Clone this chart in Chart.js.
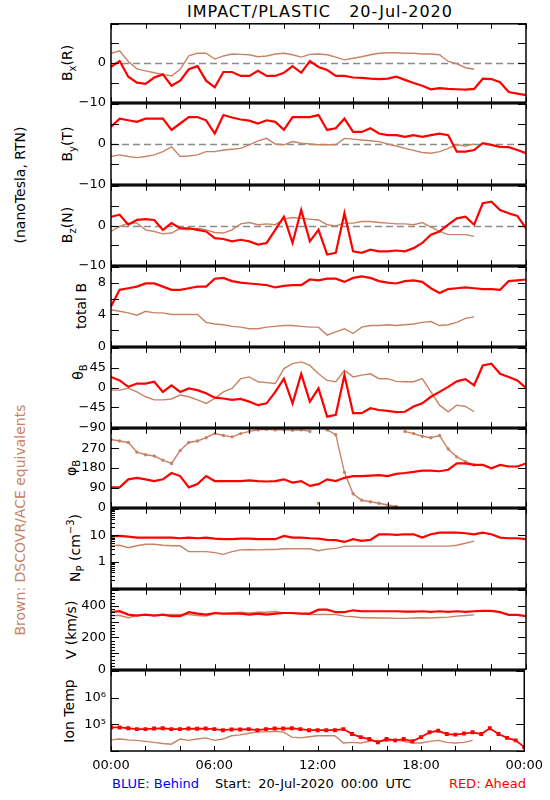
<!DOCTYPE html>
<html>
<head>
<meta charset="utf-8">
<title>IMPACT/PLASTIC 20-Jul-2020</title>
<script src="https://cdn.jsdelivr.net/npm/chart.js@4.4.0/dist/chart.umd.min.js"></script>
<style>
  body { margin: 0; background: #fff; font-family: "DejaVu Sans", sans-serif; }
  #page { position: relative; width: 550px; height: 800px; overflow: hidden; background: #fff; }
  .box { position: absolute; left: 0; width: 550px; }
  .box canvas { display: block; }
  .lbl { position: absolute; white-space: pre; font-size: 14px; line-height: 1; color: #000; transform: translate(0, -50%); }
  .rot { transform: translate(-50%, -50%) rotate(-90deg); }
  sub, sup { font-size: 10px; line-height: 0; }
</style>
</head>
<body>
<div id="page">
  <div class="lbl" style="left:320px;top:12px;font-size:16px;letter-spacing:1px;transform:translate(-50%,-50%)">IMPACT/PLASTIC   20-Jul-2020</div>

  <div class="lbl rot" style="left:20px;top:185px">(nanoTesla, RTN)</div>
  <div class="lbl rot" style="left:20px;top:520px;color:rgb(200,130,100)">Brown: DSCOVR/ACE equivalents</div>

  <div class="lbl rot" style="left:67px;top:63px">B<sub>x</sub>(R)</div>
  <div class="lbl rot" style="left:67px;top:144px">B<sub>y</sub>(T)</div>
  <div class="lbl rot" style="left:67px;top:225px">B<sub>z</sub>(N)</div>
  <div class="lbl rot" style="left:81px;top:306px">total B</div>
  <div class="lbl rot" style="left:78px;top:372px">θ<sub>B</sub></div>
  <div class="lbl rot" style="left:71px;top:468px">φ<sub>B</sub></div>
  <div class="lbl rot" style="left:75px;top:548px">N<sub>P</sub> (cm<sup>−3</sup>)</div>
  <div class="lbl rot" style="left:71px;top:630px">V (km/s)</div>
  <div class="lbl rot" style="left:69px;top:711px">Ion Temp</div>

  <div class="lbl" style="left:112px;top:783px;font-size:13px;color:#0000ff">BLUE: Behind</div>
  <div class="lbl" style="left:215px;top:783px;font-size:13px;word-spacing:3px">Start: 20-Jul-2020 00:00 UTC</div>
  <div class="lbl" style="right:24px;top:783px;font-size:13px;color:#ff0000">RED: Ahead</div>
</div>

<script>
// time grid (hours from 20-Jul-2020 00:00 UTC)
var hours = [0, 0.5, 1, 1.5, 2, 2.5, 3, 3.5, 4, 4.5, 5, 5.5, 6, 6.5, 7, 7.5, 8, 8.5, 9, 9.5,
  10, 10.5, 11, 11.5, 12, 12.5, 13, 13.5, 14, 14.5, 15, 15.5, 16, 16.5, 17, 17.5, 18, 18.5, 19, 19.5,
  20, 20.5, 21, 21.5, 22, 22.5, 23, 23.5, 24];
var hourTicks = [0, 2, 4, 6, 8, 10, 12, 14, 16, 18, 20, 22, 24];
var labelHours = [0, 6, 12, 18, 24];
var hourLabels = ['00:00', '06:00', '12:00', '18:00', '00:00'];

// red = STEREO Ahead, brown = DSCOVR/ACE (ends ~21h)
var bxRed = [-1, 0.5, -3.5, -5, -5.3, -3.7, -2.9, -5.8, -4.5, -1.6, -0.8, -4.5, -6.2, -2.3, -2.3, -3.3, -3.3, -2, -3.3, -3.3,
  -2.5, -0.8, -2.5, 0.5, -1, -1.8, -3.3, -3.3, -3.7, -3.8, -4, -4.1, -4, -3.5, -4.3, -5.1, -5.8, -6.7, -6.4, -6.6,
  -6.7, -6.8, -6.6, -4, -4.1, -4.9, -7.4, -7.8, -8.2];
var bxBrown = [2.5, 3.1, 0.4, -1.5, -2, -2.5, -2.9, -3.3, -1.6, 1.8, 2.5, 2.5, 1, 1.8, 2.3, 2.2, 2.1, 1.6, 1.8, 2.3,
  2.5, 2.1, 1.5, 2.2, 2.3, 2.1, 1.5, 0.8, 1.2, 1.6, 2.1, 2.5, 2.6, 2.6, 2.5, 2.5, 2.3, 2.3, 2.1, 0.4,
  -0.2, -1.2, -1.6];

var byRed = [4.3, 6.3, 5.9, 5.5, 6.3, 6.3, 6.3, 3.5, 5.1, 6.7, 6.7, 5.9, 2.6, 7.2, 6.6, 6.1, 5.8, 5.1, 5.9, 5.5,
  3.5, 6.7, 6.7, 6.7, 7.2, 3.5, 3.9, 6.3, 3, 3, 3.9, 2.6, 2.2, 2.2, 1.8, 2.2, 1.8, 2.2, 2.6, 2.2,
  -1.9, -1.9, -1.5, 0.2, -0.2, -0.7, -0.8, -1.5, -2.3];
var byBrown = [-3.1, -2.7, -3.1, -3.4, -3.1, -2.7, -1.9, -0.7, -3.1, -3, -2.7, -1.9, -1.9, -1.5, -1.3, -1.1, -0.2, 0.8, 1.4, 0,
  -0.2, 0.6, 0.2, 0, -0.2, -0.2, -0.2, 1.4, 1.2, 1, 0.8, 0.6, 0, -0.5, -1.1, -1.6, -2.1, -2.3, -1.9, -1.1,
  -0.2, -0.5, 0];

var bzRed = [2.2, 2.7, 0.2, 1.4, 1.6, 1.4, -1.1, 0.6, -0.7, -0.7, -1.1, -1.5, -3.2, -3.4, -4, -3.6, -4, -4.8, -4.4, -1.1,
  2.2, -4.4, 3.9, -4, -1.1, -7.3, -6.9, 3.1, -6.5, -6.9, -6.1, -6.5, -6.5, -6.3, -6.5, -5.7, -4.4, -2.3, -1.5, 0.2,
  1.8, 2.2, 0.2, 5.6, 6, 3.9, 3.1, 2.4, -0.7];
var bzBrown = [-1.5, -0.25, 0.6, 0.6, -1.1, -1.5, -2.1, -1.9, -0.7, -1.1, -0.7, -1.1, -1.75, -1.9, -1.1, 0.4, 0.75, 0.2, 0.4, 0.2,
  1.6, 2, 1.8, 1.6, 1.4, 0.2, -0.1, 0.6, 0.6, 1, 1, 0.75, 0.6, 0.4, 0.4, 0.2, 0.75, -0.4, -1.5, -2.3,
  -2.3, -2.3, -2.75];

var btRed = [5, 7.1, 7.3, 7.5, 7.9, 7.9, 7.5, 7.1, 7.1, 7.3, 7.5, 7.5, 8.5, 8.6, 8.2, 8, 7.9, 7.8, 7.7, 7.4,
  7.6, 7.7, 7.7, 8.4, 8.3, 8.5, 8.5, 8.1, 8.6, 8.8, 8.6, 8.2, 8, 7.9, 8.2, 8.3, 8.1, 7.3, 6.7, 7.2,
  7.3, 7.4, 7.3, 7.2, 7.2, 7.1, 8.2, 8.3, 8.4];
var btBrown = [4.6, 4.4, 4.2, 3.9, 4.4, 4.2, 4.2, 4, 4, 4, 4, 3, 2.8, 2.7, 2.5, 2.4, 2.2, 2.2, 2.4, 2.5,
  2.6, 2.6, 2.5, 2.4, 2.4, 1.4, 1.8, 2.2, 1.6, 2.4, 2.6, 2.6, 2.7, 2.6, 2.7, 2.8, 3, 3.1, 2.6, 2.7,
  3, 3.5, 3.7];

var thRed = [24, 16, 1.5, 9, 9, 13, -10, 5, -10, -2, -6, -13, -23, -25, -28, -26, -32, -40, -36, -10,
  20, -36, 31, -32, -2, -66, -62, 28, -58, -58, -47, -51, -53, -56, -55, -43, -36, -21, -10, 1.5,
  14, 19, 5, 50, 54, 31, 24, 16, -1];
var thBrown = [-6, -6, -2, -10, -21, -28, -28, -26, -17, -21, -28, -36, -25, -10, -2, 20, 24, 13, 11, 9,
  43, 54, 58, 50, 31, 16, 13, 39, 24, 28, 31, 20, 20, 14, 13, 13, 20, -10, -40, -55,
  -40, -43, -55];

var phRed = [91, 91, 128, 135, 128, 120, 128, 157, 143, 91, 106, 143, 120, 120, 120, 120, 123, 120, 118, 120,
  128, 113, 120, 98, 106, 128, 120, 135, 143, 143, 145, 147, 143, 153, 157, 162, 168, 168, 165, 172,
  201, 201, 194, 194, 179, 194, 187, 187, 201];
var phBrown = [311, 304, 297, 253, 241, 235, 216, 201, 260, 297, 304, 319, 338, 329, 323, 338, 348, 355, 358, 355,
  355, 353, 355, 348, 18, 355, 333, 160, 62, 32, 25, 18, 10, 3, 348, 338, 326, 319, 329, 267,
  231, 209, 194];

var npRed = [8.9, 9.4, 8.9, 8.2, 8.2, 8.2, 8.2, 8.2, 7.7, 8.2, 7.7, 8.2, 7.5, 7.1, 7.1, 7.5, 7.5, 7.1, 7.1, 7.1,
  9.4, 8.2, 8.2, 7.7, 7.5, 6.7, 6.5, 5.6, 7.1, 6.1, 6.7, 10.9, 10.9, 10.3, 10.9, 10.9, 8.2, 10.9, 12.6, 12.6,
  12.6, 11.9, 10.9, 12.6, 10.9, 8.2, 7.7, 7.7, 7.1];
var npBrown = [4, 4.2, 3.4, 4, 4.6, 4.6, 4.2, 4, 4, 2.4, 2.4, 2.4, 2.2, 1.9, 2.4, 2.8, 2.9, 2.8, 2.9, 2.9,
  3.1, 3.1, 3.1, 3.1, 2.6, 3, 3.2, 3.8, 3.9, 3.9, 3.9, 3.9, 3.9, 3.9, 3.9, 3.9, 3.9, 3.9, 3.9, 3.9,
  4.2, 5, 6];

var vRed = [359, 365, 344, 338, 344, 338, 344, 334, 334, 359, 350, 344, 354, 350, 350, 350, 344, 350, 344, 350,
  354, 354, 350, 350, 375, 375, 359, 359, 371, 365, 365, 365, 365, 365, 363, 363, 365, 361, 365, 361,
  365, 361, 365, 367, 367, 359, 342, 342, 334];
var vBrown = [338, 338, 324, 338, 342, 338, 342, 344, 344, 344, 338, 334, 350, 350, 354, 359, 354, 359, 359, 363,
  354, 350, 350, 344, 344, 344, 344, 334, 330, 324, 324, 322, 322, 320, 320, 322, 324, 322, 326, 328,
  334, 338, 342];

var tRed = [7.6e4, 7.6e4, 7.1e4, 6.6e4, 6.6e4, 6.9e4, 7.1e4, 6.6e4, 6.6e4, 6.9e4, 6.8e4, 6.9e4, 6.6e4, 6.0e4, 6.4e4, 6.4e4, 6.6e4, 6.0e4, 6.6e4, 6.9e4,
  6.9e4, 7.1e4, 6.6e4, 6.0e4, 6.0e4, 6.0e4, 6.0e4, 6.6e4, 4.3e4, 3.3e4, 2.8e4, 2.1e4, 2.8e4, 2.5e4, 2.8e4, 2.3e4, 3.3e4, 5.0e4, 5.7e4, 4.3e4,
  4.1e4, 4.5e4, 5.0e4, 4.3e4, 7.1e4, 4.3e4, 3.1e4, 2.5e4, 1.4e4];
var tBrown = [2.6e4, 2.8e4, 2.6e4, 2.5e4, 2.3e4, 2.1e4, 1.9e4, 1.8e4, 2.8e4, 2.5e4, 2.8e4, 3.1e4, 2.5e4, 2.8e4, 3.7e4, 4.0e4, 4.6e4, 5.2e4, 5.2e4, 5.4e4,
  5.2e4, 3.3e4, 3.1e4, 3.4e4, 3.7e4, 3.7e4, 3.7e4, 2.0e4, 2.1e4, 2.0e4, 2.3e4, 2.5e4, 2.3e4, 2.6e4, 2.3e4, 2.0e4, 2.0e4, 2.3e4, 2.5e4, 2.1e4,
  2.0e4, 2.1e4, 2.5e4];

var RED = '#ff0000';
var BROWN = 'rgb(200,130,100)';
var borders = [23, 103, 185, 266, 347, 428, 508, 589, 670, 751];
var tickFont = { family: 'DejaVu Sans', size: 13 };

// frame, inward ticks on all sides, optional dashed zero line
var frameTicks = {
  id: 'frameTicks',
  beforeDatasetsDraw: function (chart, args, o) {
    if (!o.zero) return;
    var ctx = chart.ctx, a = chart.chartArea;
    var py = Math.round(chart.scales.y.getPixelForValue(0)) + 0.5;
    ctx.save();
    ctx.strokeStyle = '#8c8c8c';
    ctx.lineWidth = 1.5;
    ctx.setLineDash([7, 4]);
    ctx.beginPath();
    ctx.moveTo(a.left, py);
    ctx.lineTo(a.right, py);
    ctx.stroke();
    ctx.restore();
  },
  afterDraw: function (chart, args, o) {
    var ctx = chart.ctx, a = chart.chartArea;
    var xs = chart.scales.x, ys = chart.scales.y;
    ctx.save();
    ctx.strokeStyle = '#000';
    ctx.lineWidth = 1;
    ctx.beginPath();
    hourTicks.forEach(function (h) {
      var px = Math.round(xs.getPixelForValue(h)) + 0.5;
      ctx.moveTo(px, a.top); ctx.lineTo(px, a.top + 5);
      ctx.moveTo(px, a.bottom); ctx.lineTo(px, a.bottom - 5);
    });
    (o.major || []).forEach(function (v) {
      var py = Math.round(ys.getPixelForValue(v)) + 0.5;
      ctx.moveTo(a.left, py); ctx.lineTo(a.left + 8, py);
      ctx.moveTo(a.right, py); ctx.lineTo(a.right - 8, py);
    });
    (o.minor || []).forEach(function (v) {
      var py = Math.round(ys.getPixelForValue(v)) + 0.5;
      ctx.moveTo(a.left, py); ctx.lineTo(a.left + 4, py);
    });
    ctx.stroke();
    ctx.lineWidth = 1.5;
    ctx.strokeRect(a.left, a.top, a.right - a.left, a.bottom - a.top);
    ctx.restore();
  }
};

function series(vals, color, width, extra) {
  var pts = [];
  for (var i = 0; i < vals.length; i++) pts.push({ x: hours[i], y: vals[i] });
  var ds = { data: pts, borderColor: color, backgroundColor: color, borderWidth: width, pointRadius: 0, tension: 0 };
  for (var k in extra || {}) ds[k] = extra[k];
  return ds;
}

function panel(idx, red, brown, cfg) {
  var last = idx === 8;
  var padTop = 12, padBottom = last ? 0 : 12, axisH = last ? 30 : 0;
  var h = borders[idx + 1] - borders[idx];
  var box = document.createElement('div');
  box.className = 'box';
  box.style.top = (borders[idx] - padTop) + 'px';
  var cv = document.createElement('canvas');
  cv.width = 550;
  cv.height = h + padTop + padBottom + axisH;
  box.appendChild(cv);
  document.getElementById('page').appendChild(box);

  new Chart(cv, {
    type: 'line',
    data: { datasets: [red, brown] },
    options: {
      responsive: false,
      animation: false,
      layout: { padding: { top: padTop, bottom: padBottom, left: 0, right: 24 } },
      plugins: {
        legend: { display: false },
        tooltip: { enabled: false },
        frameTicks: { major: cfg.major, minor: cfg.minor, zero: cfg.zero }
      },
      scales: {
        x: {
          type: 'linear', min: 0, max: 24, display: last,
          grid: { display: false, drawTicks: false }, border: { display: false },
          afterBuildTicks: function (s) { s.ticks = labelHours.map(function (v) { return { value: v }; }); },
          afterFit: function (s) { s.height = axisH; },
          ticks: {
            autoSkip: false, maxRotation: 0, padding: 7, color: '#000', font: tickFont,
            callback: function (v) { return hourLabels[labelHours.indexOf(v)]; }
          }
        },
        y: {
          type: cfg.log ? 'logarithmic' : 'linear', min: cfg.min, max: cfg.max,
          grid: { display: false, drawTicks: false }, border: { display: false },
          afterBuildTicks: function (s) { s.ticks = cfg.labelVals.map(function (v) { return { value: v }; }); },
          afterFit: function (s) { s.width = 111; },
          ticks: {
            autoSkip: false, padding: 5, color: '#000', font: tickFont,
            callback: function (v) { return cfg.labels[cfg.labelVals.indexOf(v)]; }
          }
        }
      }
    },
    plugins: [frameTicks]
  });
}

var bTicks = [-10, -5, 0, 5, 10];
var bCfg = { min: -10, max: 10, major: bTicks, labelVals: [-10, 0], labels: ['−10', '0'], zero: true };
var npMinor = [0.2, 0.3, 0.4, 0.5, 0.6, 0.7, 0.8, 0.9, 2, 3, 4, 5, 6, 7, 8, 9, 20, 30, 40, 50, 60, 70, 80, 90];
var vMinor = [20, 40, 60, 80, 120, 140, 160, 180, 220, 240, 260, 280, 320, 340, 360, 380, 420, 440, 460, 480];

panel(0, series(bxRed, RED, 2.2), series(bxBrown, BROWN, 1.4), bCfg);
panel(1, series(byRed, RED, 2.2), series(byBrown, BROWN, 1.4), bCfg);
panel(2, series(bzRed, RED, 2.2), series(bzBrown, BROWN, 1.4), bCfg);
panel(3, series(btRed, RED, 2.2), series(btBrown, BROWN, 1.4),
  { min: 0, max: 10, major: [0, 2, 4, 6, 8, 10], labelVals: [0, 4, 8], labels: ['0', '4', '8'] });
panel(4, series(thRed, RED, 2.2), series(thBrown, BROWN, 1.4),
  { min: -90, max: 90, major: [-90, -45, 0, 45, 90], labelVals: [-90, -45, 0, 45], labels: ['−90', '−45', '0', '45'] });
panel(5, series(phRed, RED, 2.2),
  series(phBrown, BROWN, 1.4, {
    pointRadius: 1,
    segment: { borderColor: function (c) { return Math.abs(c.p1.parsed.y - c.p0.parsed.y) > 180 ? 'rgba(0,0,0,0)' : undefined; } }
  }),
  { min: 0, max: 360, major: [0, 90, 180, 270, 360], labelVals: [0, 90, 180, 270], labels: ['0', '90', '180', '270'] });
panel(6, series(npRed, RED, 2.2), series(npBrown, BROWN, 1.4),
  { log: true, min: 0.1, max: 100, major: [0.1, 1, 10, 100], minor: npMinor, labelVals: [1, 10], labels: ['1', '10'] });
panel(7, series(vRed, RED, 2.2), series(vBrown, BROWN, 1.4),
  { min: 0, max: 500, major: [0, 100, 200, 300, 400, 500], minor: vMinor, labelVals: [0, 200, 400], labels: ['0', '200', '400'] });
panel(8, series(tRed, RED, 1.8, { pointRadius: 1.5, pointStyle: 'rect' }), series(tBrown, BROWN, 1.4),
  { log: true, min: 1e4, max: 1e7, major: [1e4, 1e5, 1e6, 1e7], labelVals: [1e5, 1e6], labels: ['10⁵', '10⁶'] });
</script>
</body>
</html>
